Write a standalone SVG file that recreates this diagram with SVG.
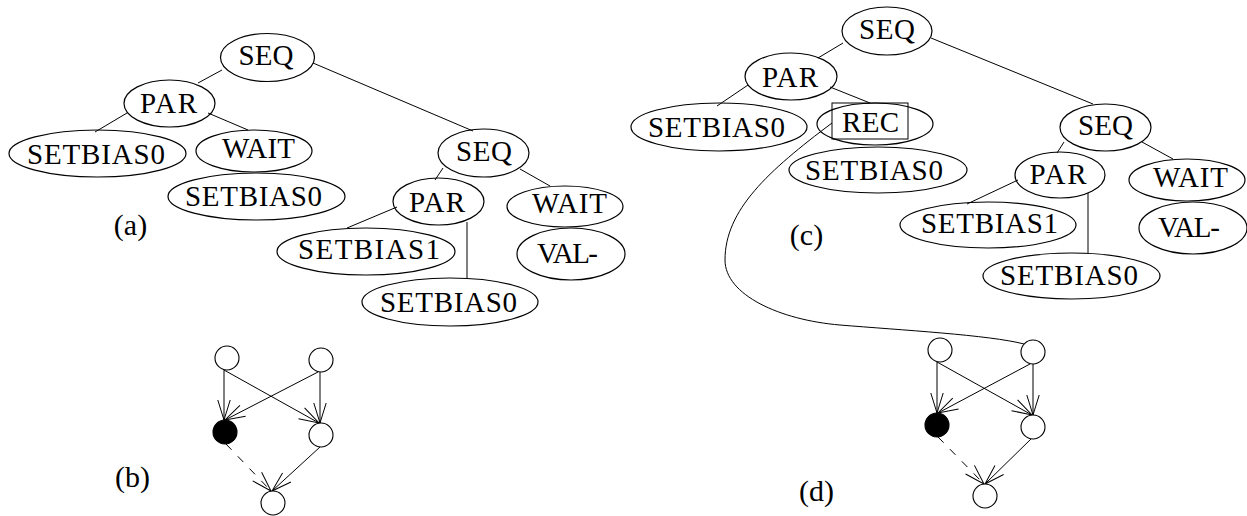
<svg xmlns="http://www.w3.org/2000/svg" width="1247" height="516" viewBox="0 0 1247 516">
<style>
.n{fill:none;stroke:#000;stroke-width:1.2}
.t{font-family:"Liberation Serif","DejaVu Serif",serif;font-size:29px;text-anchor:middle;fill:#000}
.l{font-family:"Liberation Serif","DejaVu Serif",serif;font-size:30px;text-anchor:middle;fill:#000}
.e{fill:none;stroke:#000;stroke-width:1}
.c{fill:#fff;stroke:#000;stroke-width:1.1}
.b{fill:#000;stroke:#000;stroke-width:1.1}
.d{stroke-dasharray:8 9}
</style>
<defs>
<marker id="ah" markerUnits="userSpaceOnUse" markerWidth="26" markerHeight="16" refX="22" refY="8" orient="auto" viewBox="0 0 26 16">
<path d="M2,1.8 L22,8 L2,14.2" fill="none" stroke="#000" stroke-width="1"/>
</marker>
</defs>
<g id="connectors">
<line class="e" x1="222" y1="70" x2="198" y2="83"/>
<line class="e" x1="127" y1="113" x2="95" y2="132"/>
<line class="e" x1="208" y1="113" x2="248" y2="130"/>
<line class="e" x1="313" y1="63" x2="473" y2="131"/>
<line class="e" x1="443" y1="168" x2="435" y2="180"/>
<line class="e" x1="520" y1="169" x2="550" y2="186"/>
<line class="e" x1="397" y1="207" x2="347" y2="228"/>
<line class="e" x1="467" y1="222" x2="467" y2="278"/>
<line class="e" x1="843" y1="43" x2="818" y2="58"/>
<line class="e" x1="931" y1="38" x2="1093" y2="104"/>
<line class="e" x1="748" y1="85" x2="717" y2="106"/>
<line class="e" x1="830" y1="87" x2="870" y2="103"/>
<line class="e" x1="1064" y1="142" x2="1057" y2="153"/>
<line class="e" x1="1142" y1="142" x2="1173" y2="159"/>
<line class="e" x1="1018" y1="180" x2="967" y2="204"/>
<line class="e" x1="1088" y1="193" x2="1088" y2="253"/>
<path class="e" d="M832,123 C768,171 725,210 725,260 C725,295 780,320 840,325 C900,330 990,335 1024,344"/>
<line class="e" x1="224" y1="370" x2="224" y2="420" marker-end="url(#ah)"/>
<line class="e" x1="224" y1="370" x2="319" y2="423" marker-end="url(#ah)"/>
<line class="e" x1="320" y1="372" x2="320" y2="423" marker-end="url(#ah)"/>
<line class="e" x1="318" y1="372" x2="225" y2="420" marker-end="url(#ah)"/>
<line class="e" x1="320" y1="447" x2="272" y2="491" marker-end="url(#ah)"/>
<line class="e d" x1="226" y1="444" x2="271" y2="491" marker-end="url(#ah)"/>
<line class="e" x1="937" y1="362" x2="937" y2="413" marker-end="url(#ah)"/>
<line class="e" x1="937" y1="362" x2="1032" y2="415" marker-end="url(#ah)"/>
<line class="e" x1="1033" y1="364" x2="1033" y2="415" marker-end="url(#ah)"/>
<line class="e" x1="1030" y1="364" x2="938" y2="413" marker-end="url(#ah)"/>
<line class="e" x1="1031" y1="439" x2="985" y2="484" marker-end="url(#ah)"/>
<line class="e d" x1="938" y1="437" x2="984" y2="484" marker-end="url(#ah)"/>
</g>
<g id="a-seq"><ellipse class="n" cx="267.5" cy="57.5" rx="47" ry="24"/><text class="t" x="266" y="65" textLength="55">SEQ</text></g>
<g id="a-par"><ellipse class="n" cx="169.5" cy="103.5" rx="45.5" ry="23.5"/><text class="t" x="168.5" y="113" textLength="57">PAR</text></g>
<g id="a-setbias0"><ellipse class="n" cx="97.5" cy="153.5" rx="88.5" ry="23.5"/><text class="t" x="96" y="164" textLength="138">SETBIAS0</text></g>
<g id="a-wait"><ellipse class="n" cx="254" cy="151" rx="58" ry="21"/><text class="t" x="258.5" y="158" textLength="73">WAIT</text></g>
<g id="a-setbias0b"><ellipse class="n" cx="256.5" cy="196.5" rx="88.5" ry="23.5"/><text class="t" x="253.5" y="206" textLength="137">SETBIAS0</text></g>
<g id="a-seq2"><ellipse class="n" cx="483.5" cy="153" rx="45.5" ry="24"/><text class="t" x="484" y="161" textLength="56">SEQ</text></g>
<g id="a-par2"><ellipse class="n" cx="438.5" cy="201.5" rx="45.5" ry="23.5"/><text class="t" x="437" y="212" textLength="56">PAR</text></g>
<g id="a-wait2"><ellipse class="n" cx="565" cy="206.5" rx="58" ry="20.5"/><text class="t" x="569.5" y="213" textLength="75">WAIT</text></g>
<g id="a-val"><ellipse class="n" cx="571" cy="254" rx="54" ry="26"/><text class="t" x="567.5" y="263" textLength="61">VAL-</text></g>
<g id="a-setbias1"><ellipse class="n" cx="366" cy="251.5" rx="89" ry="23.5"/><text class="t" x="369" y="259" textLength="142">SETBIAS1</text></g>
<g id="a-setbias0c"><ellipse class="n" cx="450" cy="302" rx="88" ry="24"/><text class="t" x="448.5" y="312" textLength="137">SETBIAS0</text></g>
<g id="c-seq"><ellipse class="n" cx="887" cy="31" rx="45" ry="24"/><text class="t" x="887" y="39" textLength="56">SEQ</text></g>
<g id="c-par"><ellipse class="n" cx="791" cy="76.5" rx="46" ry="23.5"/><text class="t" x="790" y="87" textLength="56">PAR</text></g>
<g id="c-setbias0"><ellipse class="n" cx="719" cy="127" rx="88" ry="24"/><text class="t" x="716.5" y="137" textLength="137">SETBIAS0</text></g>
<g id="c-rec"><ellipse class="n" cx="875" cy="124" rx="58" ry="21"/><rect class="e" x="832" y="103" width="76" height="36"/><text class="t" x="870.5" y="132" textLength="57">REC</text></g>
<g id="c-setbias0b"><ellipse class="n" cx="878" cy="170" rx="89" ry="23"/><text class="t" x="874" y="180" textLength="138">SETBIAS0</text></g>
<g id="c-seq2"><ellipse class="n" cx="1105.5" cy="127.5" rx="45.5" ry="23.5"/><text class="t" x="1105.5" y="135" textLength="55">SEQ</text></g>
<g id="c-par2"><ellipse class="n" cx="1060" cy="175" rx="45" ry="23"/><text class="t" x="1058" y="184" textLength="57">PAR</text></g>
<g id="c-wait"><ellipse class="n" cx="1187" cy="180" rx="58" ry="21"/><text class="t" x="1190.5" y="187" textLength="75">WAIT</text></g>
<g id="c-val"><ellipse class="n" cx="1193" cy="228" rx="54" ry="26"/><text class="t" x="1189" y="237" textLength="62">VAL-</text></g>
<g id="c-setbias1"><ellipse class="n" cx="988" cy="225" rx="88" ry="23"/><text class="t" x="989.5" y="233" textLength="137">SETBIAS1</text></g>
<g id="c-setbias0c"><ellipse class="n" cx="1071.5" cy="276" rx="88.5" ry="23"/><text class="t" x="1069" y="285" textLength="138">SETBIAS0</text></g>
<g id="b-tl"><circle class="c" cx="227" cy="358" r="12"/></g>
<g id="b-tr"><circle class="c" cx="321" cy="360" r="12"/></g>
<g id="b-black"><circle class="b" cx="225" cy="432" r="12"/></g>
<g id="b-rm"><circle class="c" cx="321" cy="435" r="12"/></g>
<g id="b-bottom"><circle class="c" cx="273" cy="503" r="12"/></g>
<g id="d-tl"><circle class="c" cx="940" cy="350" r="12"/></g>
<g id="d-tr"><circle class="c" cx="1033" cy="352" r="12"/></g>
<g id="d-black"><circle class="b" cx="937" cy="425" r="12"/></g>
<g id="d-rm"><circle class="c" cx="1033" cy="427" r="12"/></g>
<g id="d-bottom"><circle class="c" cx="985" cy="496" r="12"/></g>
<g id="labels">
<text class="l" x="130.5" y="235">(a)</text>
<text class="l" x="132.5" y="487">(b)</text>
<text class="l" x="806.5" y="245">(c)</text>
<text class="l" x="816.5" y="501">(d)</text>
</g>
</svg>
